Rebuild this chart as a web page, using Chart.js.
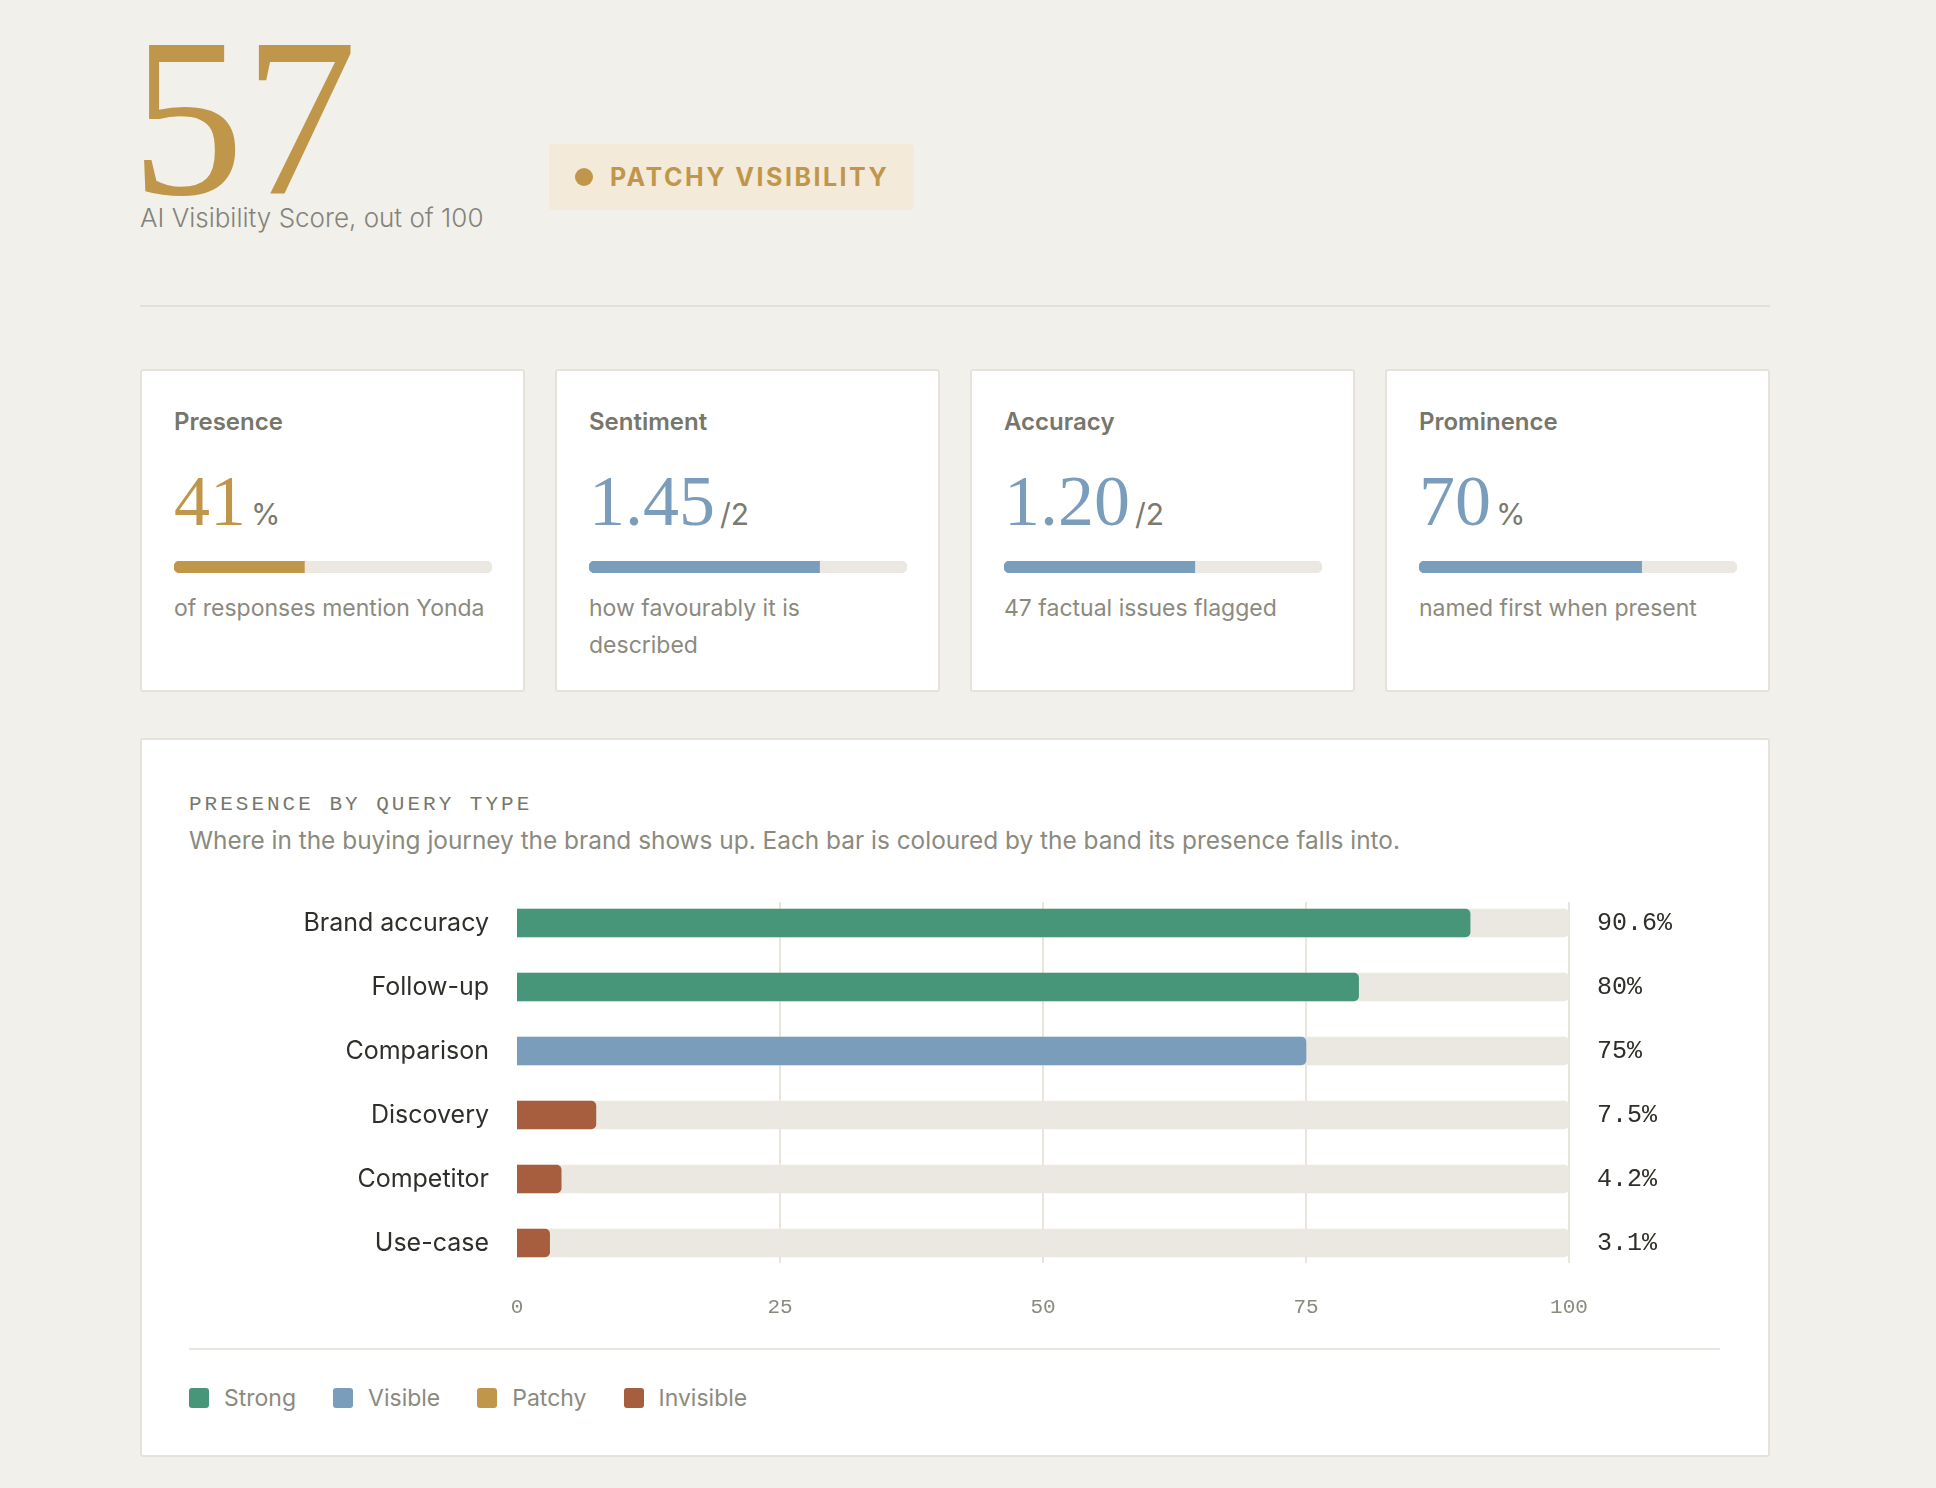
<!DOCTYPE html>
<html>
<head>
<meta charset="utf-8">
<script src="https://cdn.jsdelivr.net/npm/chart.js@4.4.1/dist/chart.umd.min.js"></script>
<style>
  body { margin: 0; width: 1936px; height: 1488px; background: #f2f0ea; font-family: Inter, sans-serif; position: relative; overflow: hidden; }
  .abs { position: absolute; }
  #score { left: 131px; top: 5px; font: 226px/226px "Liberation Serif", serif; color: #c0974a; }
  #scoreLabel { left: 140px; top: 205px; font: 300 26px/26px Inter, sans-serif; color: #84837a; white-space: nowrap; }
  #badge { left: 549px; top: 144px; width: 365px; height: 66px; background: #f4ead9; border-radius: 4px; display: flex; align-items: center; box-sizing: border-box; padding-left: 26px; }
  #badge .dot { width: 18px; height: 18px; border-radius: 50%; background: #c0974a; margin-right: 17px; }
  #badge .txt { font: 700 25px/25px Inter, sans-serif; letter-spacing: 2.5px; color: #c0974a; }
  #rule { left: 140px; top: 305px; width: 1630px; height: 2px; background: #e2e0d7; }
  .card { position: absolute; top: 369px; width: 385px; height: 323px; box-sizing: border-box; background: #fff; border: 2px solid #e4e2da; border-radius: 3px; }
  .card .name { position: absolute; left: 32px; top: 39px; font: 600 24px/24px Inter, sans-serif; color: #76766a; }
  .card .num { position: absolute; left: 32px; top: 98px; display: flex; align-items: baseline; white-space: nowrap; }
  .card .num .big { font: 72px/64px "Liberation Serif", serif; }
  .card .num .suf { font: 30px/64px Inter, sans-serif; color: #7a7a6e; margin-left: 5px; }
  .card .bar { position: absolute; left: 32px; top: 190px; width: 318px; height: 12px; }
  .card .note { position: absolute; left: 32px; top: 219px; width: 318px; font: 23px/37px Inter, sans-serif; color: #8b8a7e; }
  #chartCard { position: absolute; left: 140px; top: 738px; width: 1630px; height: 719px; box-sizing: border-box; background: #fff; border: 2px solid #e4e2da; border-radius: 3px; }
  #chartTitle { position: absolute; left: 47px; top: 55px; font: 21px/20px "Liberation Mono", monospace; letter-spacing: 3px; color: #77776b; white-space: nowrap; }
  #chartSub { position: absolute; left: 47px; top: 88px; font: 24.4px/24px Inter, sans-serif; color: #8b8a7e; white-space: nowrap; }
  #chartWrap { position: absolute; left: 47px; top: 130px; width: 1531px; height: 450px; }
  #chartRule { position: absolute; left: 47px; top: 608px; width: 1531px; height: 2px; background: #e7e5de; }
  #legend { position: absolute; left: 47px; top: 648px; display: flex; align-items: flex-start; }
  #legend .item { display: flex; align-items: flex-start; margin-right: 37px; }
  #legend .sw { width: 20px; height: 20px; border-radius: 3px; margin-right: 15px; }
  #legend .lab { font: 23px/20px Inter, sans-serif; color: #8b8a7e; }
</style>
</head>
<body>
<div id="score" class="abs">57</div>
<div id="scoreLabel" class="abs">AI Visibility Score, out of 100</div>
<div id="badge" class="abs"><div class="dot"></div><div class="txt">PATCHY VISIBILITY</div></div>
<div id="rule" class="abs"></div>
<div id="cards"></div>
<div id="chartCard">
  <div id="chartTitle">PRESENCE BY QUERY TYPE</div>
  <div id="chartSub">Where in the buying journey the brand shows up. Each bar is coloured by the band its presence falls into.</div>
  <div id="chartWrap"><canvas id="presenceChart"></canvas></div>
  <div id="chartRule"></div>
  <div id="legend"></div>
</div>
<script>
// bands
const bandNames = ['Strong', 'Visible', 'Patchy', 'Invisible'];
const bandColors = ['#48967a', '#7a9dbb', '#c0974a', '#a65e3e'];

// metric cards
const metricNames = ['Presence', 'Sentiment', 'Accuracy', 'Prominence'];
const metricValues = [41, 1.45, 1.20, 70];
const metricShown = ['41', '1.45', '1.20', '70'];
const metricMax = [100, 2, 2, 100];
const metricSuffix = ['%', '/2', '/2', '%'];
const metricBand = ['Patchy', 'Visible', 'Visible', 'Visible'];
const metricNotes = ['of responses mention Yonda', 'how favourably it is described', '47 factual issues flagged', 'named first when present'];

// presence by query type
const categories = ['Brand accuracy', 'Follow-up', 'Comparison', 'Discovery', 'Competitor', 'Use-case'];
const presence = [90.6, 80, 75, 7.5, 4.2, 3.1];
const categoryBand = ['Strong', 'Strong', 'Visible', 'Invisible', 'Invisible', 'Invisible'];
const xTicks = [0, 25, 50, 75, 100];

const trackColor = '#ebe8e1';
const monoFont = '"Liberation Mono", "DejaVu Sans Mono", monospace';
const colorOf = band => bandColors[bandNames.indexOf(band)];

Chart.defaults.animation = false;
Chart.defaults.plugins.legend.display = false;
Chart.defaults.plugins.tooltip.enabled = false;

// cards
const cardsEl = document.getElementById('cards');
metricNames.forEach((name, i) => {
    const card = document.createElement('div');
    card.className = 'card';
    card.style.left = (140 + i * 415) + 'px';
    card.innerHTML =
        '<div class="name">' + name + '</div>' +
        '<div class="num"><span class="big" style="color:' + colorOf(metricBand[i]) + '">' + metricShown[i] + '</span><span class="suf">' + metricSuffix[i] + '</span></div>' +
        '<div class="bar"><canvas></canvas></div>' +
        '<div class="note">' + metricNotes[i] + '</div>';
    cardsEl.appendChild(card);

    new Chart(card.querySelector('canvas'), {
        type: 'bar',
        data: {
            labels: [name],
            datasets: [{
                data: [metricValues[i]],
                backgroundColor: colorOf(metricBand[i]),
                borderRadius: { topLeft: 6, bottomLeft: 6, topRight: 0, bottomRight: 0 },
                borderSkipped: false,
                barThickness: 12,
                grouped: false
            }, {
                data: [metricMax[i]],
                backgroundColor: trackColor,
                borderRadius: 6,
                borderSkipped: false,
                barThickness: 12,
                grouped: false
            }]
        },
        options: {
            indexAxis: 'y',
            responsive: true,
            maintainAspectRatio: false,
            layout: { padding: 0 },
            scales: {
                x: { display: false, min: 0, max: metricMax[i] },
                y: { display: false }
            }
        }
    });
});

// grid lines only across the bar rows
const rowGrid = {
    id: 'rowGrid',
    beforeDatasetsDraw(chart) {
        const { ctx, chartArea, scales } = chart;
        ctx.save();
        ctx.strokeStyle = '#e8e5dd';
        ctx.lineWidth = 2;
        xTicks.slice(1).forEach(t => {
            const x = Math.round(scales.x.getPixelForValue(t));
            ctx.beginPath();
            ctx.moveTo(x, chartArea.top + 11);
            ctx.lineTo(x, chartArea.bottom - 12);
            ctx.stroke();
        });
        ctx.restore();
    }
};

// value labels to the right of the track
const valueLabels = {
    id: 'valueLabels',
    afterDatasetsDraw(chart) {
        const { ctx, scales } = chart;
        ctx.save();
        ctx.font = '25px ' + monoFont;
        ctx.fillStyle = '#2f2f2a';
        ctx.textAlign = 'left';
        ctx.textBaseline = 'middle';
        presence.forEach((v, i) => {
            ctx.fillText(v + '%', scales.x.getPixelForValue(100) + 28, scales.y.getPixelForValue(i));
        });
        ctx.restore();
    }
};

new Chart(document.getElementById('presenceChart'), {
    type: 'bar',
    data: {
        labels: categories,
        datasets: [{
            label: 'Presence',
            data: presence,
            backgroundColor: categoryBand.map(colorOf),
            borderRadius: 5,
            borderSkipped: 'start',
            barThickness: 28,
            grouped: false
        }, {
            label: 'Track',
            data: categories.map(() => 100),
            backgroundColor: trackColor,
            borderRadius: 5,
            borderSkipped: 'start',
            barThickness: 28,
            grouped: false
        }]
    },
    options: {
        indexAxis: 'y',
        responsive: true,
        maintainAspectRatio: false,
        layout: { padding: { top: 21, right: 151, left: 0, bottom: 0 } },
        scales: {
            x: {
                min: 0,
                max: 100,
                afterBuildTicks: scale => { scale.ticks = xTicks.map(v => ({ value: v })); },
                afterFit: scale => { scale.height = 45; },
                grid: { display: false, drawTicks: false },
                border: { display: false },
                ticks: {
                    padding: 20,
                    color: '#8b8a7e',
                    font: { family: monoFont, size: 21 }
                }
            },
            y: {
                afterFit: scale => {
                    scale.width = 328;
                    scale.paddingTop = 0;
                    scale.paddingBottom = 0;
                },
                grid: { display: false, drawTicks: false },
                border: { display: false },
                ticks: {
                    padding: 28,
                    color: '#2f2f2a',
                    font: { family: 'Inter, sans-serif', size: 25 }
                }
            }
        }
    },
    plugins: [rowGrid, valueLabels]
});

// legend
const legendEl = document.getElementById('legend');
bandNames.forEach((b, i) => {
    const item = document.createElement('div');
    item.className = 'item';
    item.innerHTML = '<div class="sw" style="background:' + bandColors[i] + '"></div><div class="lab">' + b + '</div>';
    legendEl.appendChild(item);
});
</script>
</body>
</html>
